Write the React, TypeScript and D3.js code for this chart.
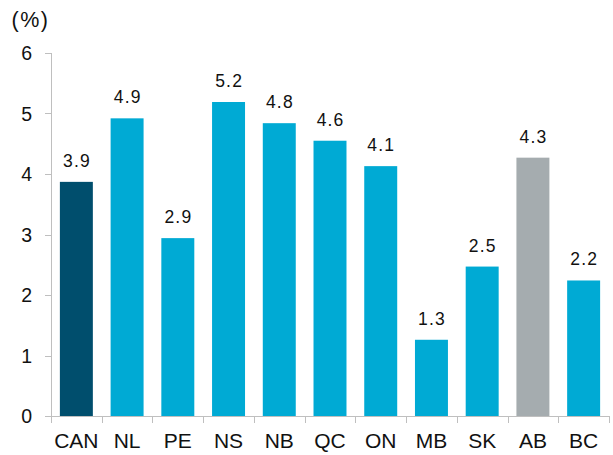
import React from "react";
import * as d3 from "d3";

const categories = ["CAN", "NL", "PE", "NS", "NB", "QC", "ON", "MB", "SK", "AB", "BC"];
const values = [3.87, 4.92, 2.94, 5.19, 4.84, 4.55, 4.13, 1.26, 2.47, 4.27, 2.24];
const labels = ["3.9", "4.9", "2.9", "5.2", "4.8", "4.6", "4.1", "1.3", "2.5", "4.3", "2.2"];
const barColors = ["#004E6D", "#00AAD4", "#00AAD4", "#00AAD4", "#00AAD4", "#00AAD4", "#00AAD4", "#00AAD4", "#00AAD4", "#A5ACAF", "#00AAD4"];
const yTicks = [0, 1, 2, 3, 4, 5, 6];

const W = 613;
const H = 455;
const left = 51;
const right = 609;
const top = 53;
const bottom = 416;
const axisColor = "#BFBFBF";
const font = "Arial, 'Liberation Sans', sans-serif";

export default function App() {
  const x = d3.scaleBand<string>().domain(categories).range([left, right]).paddingInner(0.35).paddingOuter(0.175);
  const xOuter = d3.scaleBand<string>().domain(categories).range([left, right]);
  const y = d3.scaleLinear().domain([0, 6]).range([bottom, top]);

  return (
    <svg width={W} height={H} style={{ position: "absolute", left: 0, top: 0, fontFamily: font }}>
      <rect width={W} height={H} fill="#fff" />
      <text x={11.5} y={27.3} fontSize={21.5} letterSpacing={1.5} fill="#111">(%)</text>
      {/* y axis */}
      <line x1={left + 0.5} x2={left + 0.5} y1={y(6)} y2={bottom} stroke={axisColor} strokeWidth={1} />
      {yTicks.map((t) => (
        <g key={t}>
          <line x1={left - 6} x2={left} y1={Math.round(y(t)) + 0.5} y2={Math.round(y(t)) + 0.5} stroke={axisColor} />
          <text x={32} y={y(t) + 7} fontSize={19.5} textAnchor="end" fill="#111">{t}</text>
        </g>
      ))}
      {/* bars */}
      {categories.map((c, i) => (
        <g key={c}>
          <rect x={x(c)} y={y(values[i])} width={x.bandwidth()} height={bottom - y(values[i])} fill={barColors[i]} />
          <text x={(x(c) as number) + x.bandwidth() / 2 + 0.6} y={y(values[i]) - 15} fontSize={17.5} letterSpacing={1.2} textAnchor="middle" fill="#111">{labels[i]}</text>
          <text x={(x(c) as number) + x.bandwidth() / 2} y={447.5} fontSize={21} textAnchor="middle" fill="#111">{c}</text>
        </g>
      ))}
      {/* x axis */}
      <line x1={left} x2={right} y1={bottom + 0.5} y2={bottom + 0.5} stroke={axisColor} />
      {categories.concat(["_end"]).map((c, i) => {
        const xp = Math.round(left + i * xOuter.step()) + 0.5;
        return <line key={c} x1={xp} x2={xp} y1={bottom} y2={bottom + 7} stroke={axisColor} />;
      })}
    </svg>
  );
}
